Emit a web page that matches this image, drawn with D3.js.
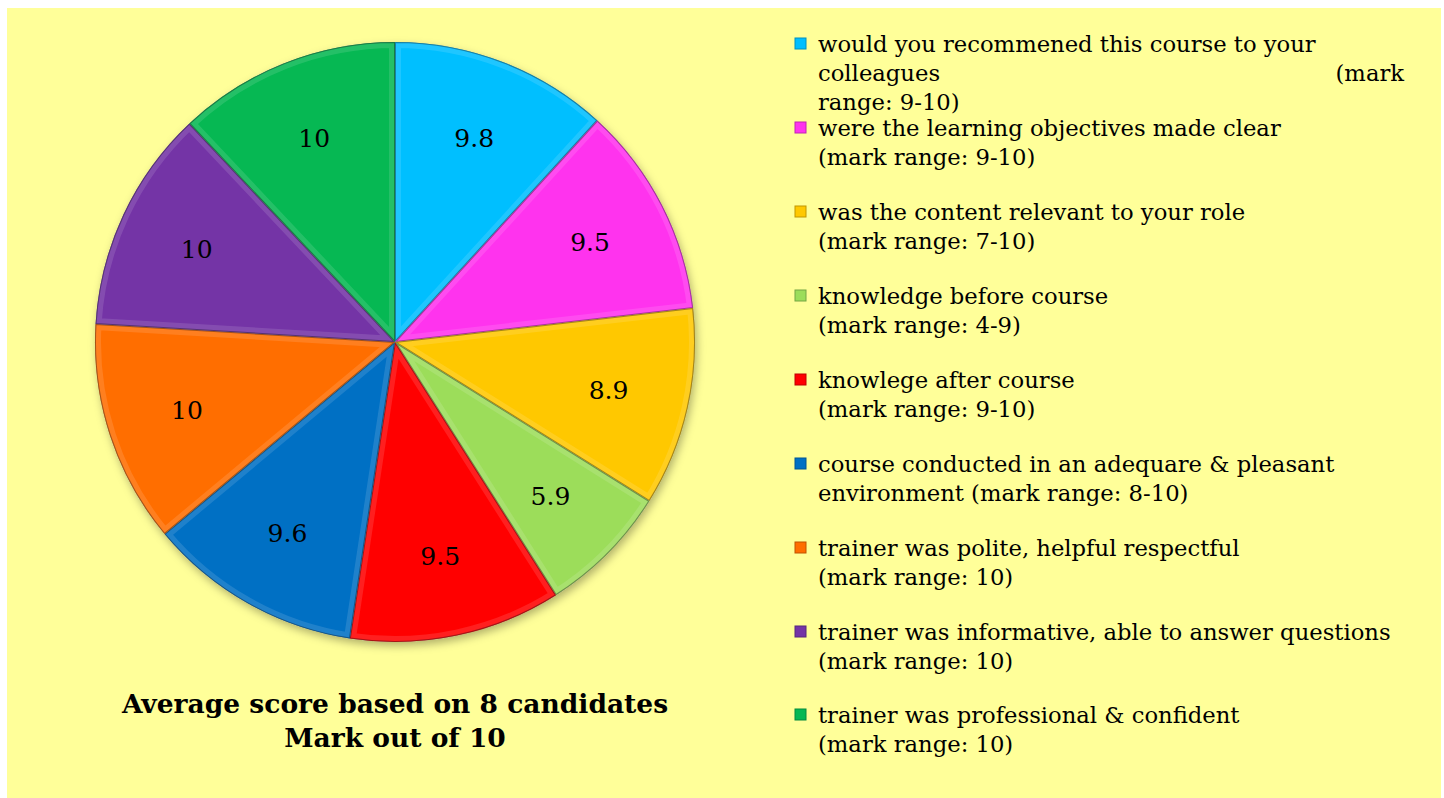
<!DOCTYPE html>
<html>
<head>
<meta charset="utf-8">
<script src="https://cdn.jsdelivr.net/npm/d3@7"></script>
<style>
  html, body { margin: 0; padding: 0; background: #fff; }
  svg { display: block; }
  text { font-family: "DejaVu Serif", Georgia, serif; fill: #000; }
</style>
</head>
<body>
<div id="chart"></div>
<script>
// Feedback survey: average score per question (out of 10)
const questions = [
  ["would you recommened this course to your", "colleagues\t(mark", "range: 9-10)"],
  ["were the learning objectives made clear", "(mark range: 9-10)"],
  ["was the content relevant to your role", "(mark range: 7-10)"],
  ["knowledge before course", "(mark range: 4-9)"],
  ["knowlege after course", "(mark range: 9-10)"],
  ["course conducted in an adequare & pleasant", "environment (mark range: 8-10)"],
  ["trainer was polite, helpful respectful", "(mark range: 10)"],
  ["trainer was informative, able to answer questions", "(mark range: 10)"],
  ["trainer was professional & confident", "(mark range: 10)"]
];
const scores = [9.8, 9.5, 8.9, 5.9, 9.5, 9.6, 10, 10, 10];
const colors = ["#00BFFF", "#FF33EE", "#FFC800", "#9CDD5A", "#FF0000", "#0070C4", "#FF6E00", "#7434A6", "#06B853"];
const titleLines = ["Average score based on 8 candidates", "Mark out of 10"];

const W = 1444, H = 798;
const cx = 395, cy = 342, R = 300;

const svg = d3.select("#chart").append("svg")
  .attr("width", W).attr("height", H);

const defs = svg.append("defs");
const shadow = defs.append("filter").attr("id", "shadow")
  .attr("x", "-10%").attr("y", "-10%").attr("width", "120%").attr("height", "120%");
shadow.append("feDropShadow")
  .attr("dx", 2).attr("dy", 4).attr("stdDeviation", 4)
  .attr("flood-color", "#000").attr("flood-opacity", 0.3);

// panel
svg.append("rect")
  .attr("x", 7).attr("y", 8).attr("width", 1434).attr("height", 790)
  .attr("fill", "#FFFF99");

const data = scores.map((v, i) => ({ value: v, label: questions[i], color: colors[i], i }));

const pie = d3.pie().value(d => d.value).sort(null);
const arcs = pie(data);
const arc = d3.arc().innerRadius(0).outerRadius(R);
const labelArc = d3.arc().innerRadius(R * 0.73).outerRadius(R * 0.73);

const g = svg.append("g").attr("transform", `translate(${cx},${cy})`);

// drop shadow disc
g.append("circle").attr("r", R).attr("fill", "#888").attr("filter", "url(#shadow)");

arcs.forEach((a, i) => {
  defs.append("clipPath").attr("id", "clip" + i)
    .append("path").attr("d", arc(a));
});

const slices = g.selectAll("g.slice").data(arcs).join("g").attr("class", "slice");

slices.append("path")
  .attr("d", arc)
  .attr("fill", d => d.data.color);

// soft bevel: light inner rim and darker edge, clipped to each slice
slices.append("path")
  .attr("d", arc)
  .attr("clip-path", (d, i) => `url(#clip${i})`)
  .attr("fill", "none")
  .attr("stroke", "#fff")
  .attr("stroke-opacity", 0.12)
  .attr("stroke-width", 12);
slices.append("path")
  .attr("d", arc)
  .attr("clip-path", (d, i) => `url(#clip${i})`)
  .attr("fill", "none")
  .attr("stroke", "#000")
  .attr("stroke-opacity", 0.35)
  .attr("stroke-width", 2);

// value labels
g.selectAll("text.val").data(arcs).join("text")
  .attr("class", "val")
  .attr("transform", d => `translate(${labelArc.centroid(d)})`)
  .attr("text-anchor", "middle")
  .attr("dy", "0.35em")
  .style("font-size", "25px")
  .text(d => d.data.value);

// title under the pie
svg.append("g").selectAll("text").data(titleLines).join("text")
  .attr("x", cx)
  .attr("y", (d, i) => 713 + i * 34)
  .attr("text-anchor", "middle")
  .style("font-size", "26.5px")
  .style("font-weight", "bold")
  .text(d => d);

// legend
const legX = 795, textX = 818, rightX = 1404;
const lineH = 29;
const itemTop = [52, 136, 220, 304, 388, 472, 556, 640, 723];

const leg = svg.append("g").attr("class", "legend");
const items = leg.selectAll("g.item").data(data).join("g").attr("class", "item");

items.append("rect")
  .attr("x", legX).attr("y", (d, i) => itemTop[i] - 14)
  .attr("width", 11).attr("height", 11)
  .attr("fill", d => d.color)
  .attr("stroke", d => d3.color(d.color).darker(0.8))
  .attr("stroke-width", 1);

items.each(function (d, i) {
  const sel = d3.select(this);
  d.label.forEach((line, j) => {
    const y = itemTop[i] + j * lineH;
    const parts = line.split("\t");
    sel.append("text").attr("x", textX).attr("y", y)
      .style("font-size", "22.7px").text(parts[0]);
    if (parts[1]) {
      sel.append("text").attr("x", rightX).attr("y", y)
        .attr("text-anchor", "end")
        .style("font-size", "22.7px").text(parts[1]);
    }
  });
});
</script>
</body>
</html>
